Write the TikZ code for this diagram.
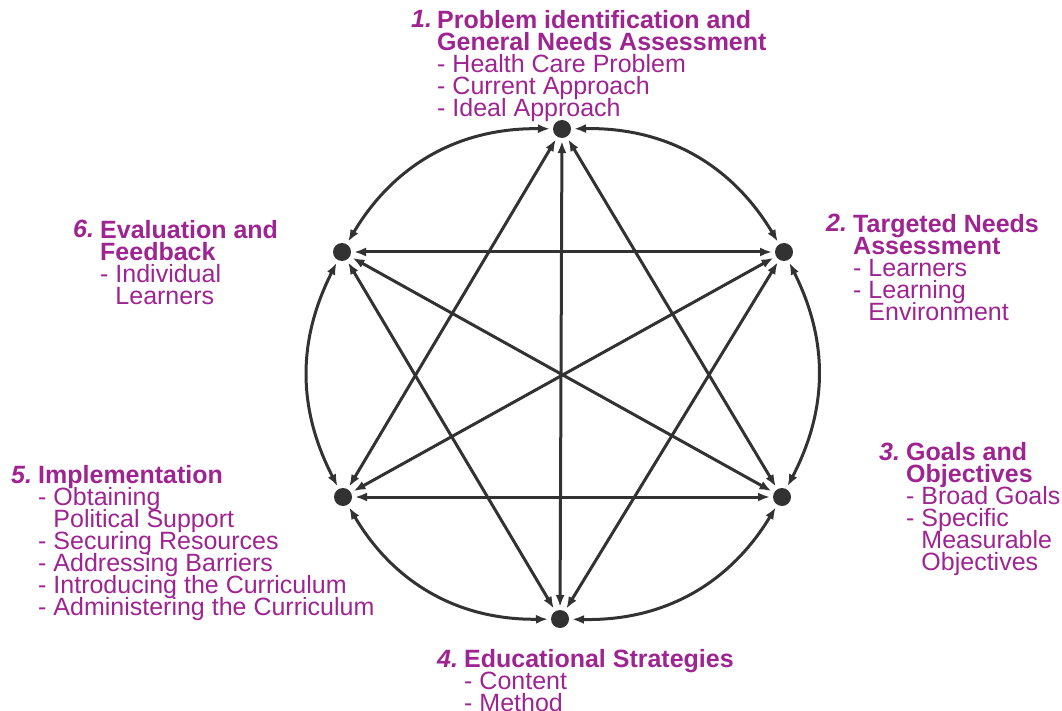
\documentclass[tikz,border=0pt]{standalone}
\usepackage{fontspec}
\setmainfont{Liberation Sans}
\usepackage{xcolor}
\usetikzlibrary{arrows.meta}
\definecolor{stagecol}{RGB}{158,36,145}
\definecolor{inkgray}{RGB}{50,50,50}
\newcommand{\stagefont}{\fontsize{25}{22}\selectfont\lineskiplimit=-30pt\relax\lineskip=0pt\relax}

\begin{document}
\begin{tikzpicture}[x=1pt, y=-1pt,
		dot/.style={circle, fill=inkgray, inner sep=0pt, minimum size=18pt, outer sep=3pt},
		link/.style={{Latex[length=12pt,width=9pt]}-{Latex[length=12pt,width=9pt]}, draw=inkgray, line width=3pt},
		stagenum/.style={anchor=base west, inner sep=0pt, text=stagecol, font={\stagefont\bfseries\itshape}},
		stage/.style={anchor=north west, inner sep=0pt, align=left, text=stagecol, font={\stagefont}}]
		\useasboundingbox (0,0) rectangle (1062,711);

		\node [dot] (p1) at (562,129) {};
		\node [dot] (p2) at (784,252) {};
		\node [dot] (p3) at (782,497) {};
		\node [dot] (p4) at (560,619) {};
		\node [dot] (p5) at (343,497) {};
		\node [dot] (p6) at (342,252) {};

		\draw [link] (p1) to[bend left=30] (p2);
		\draw [link] (p2) to[bend left=27] (p3);
		\draw [link] (p3) to[bend left=30] (p4);
		\draw [link] (p4) to[bend left=30] (p5);
		\draw [link] (p5) to[bend left=27] (p6);
		\draw [link] (p6) to[bend left=30] (p1);

		\foreach \a/\b in {p1/p3, p1/p4, p1/p5, p2/p4, p2/p5, p2/p6, p3/p5, p3/p6, p4/p6}
			\draw [link] (\a) -- (\b);

		\node [stagenum] (n1) at (411,28) {1.};
		\node [stage] (s1) at (437,10) {\textbf{Problem identification and}\\ \textbf{General Needs Assessment}\\ - Health Care Problem\\ - Current Approach\\ - Ideal Approach};

		\node [stagenum] (n2) at (826,232) {2.};
		\node [stage] (s2) at (853,214) {\textbf{Targeted Needs}\\ \textbf{Assessment}\\ - Learners\\ - Learning\\ \phantom{- }Environment};

		\node [stagenum] (n3) at (879,460) {3.};
		\node [stage] (s3) at (906,442) {\textbf{Goals and}\\ \textbf{Objectives}\\ - Broad Goals\\ - Specific\\ \phantom{- }Measurable\\ \phantom{- }Objectives};

		\node [stagenum] (n4) at (437,667) {4.};
		\node [stage] (s4) at (464,649) {\textbf{Educational Strategies}\\ - Content\\ - Method};

		\node [stagenum] (n5) at (11,483) {5.};
		\node [stage] (s5) at (38,465) {\textbf{Implementation}\\ - Obtaining\\ \phantom{- }Political Support\\ - Securing Resources\\ - Addressing Barriers\\ - Introducing the Curriculum\\ - Administering the Curriculum};

		\node [stagenum] (n6) at (73,238) {6.};
		\node [stage] (s6) at (100,220) {\textbf{Evaluation and}\\ \textbf{Feedback}\\ - Individual\\ \phantom{- }Learners};

	\end{tikzpicture}
\end{document}
